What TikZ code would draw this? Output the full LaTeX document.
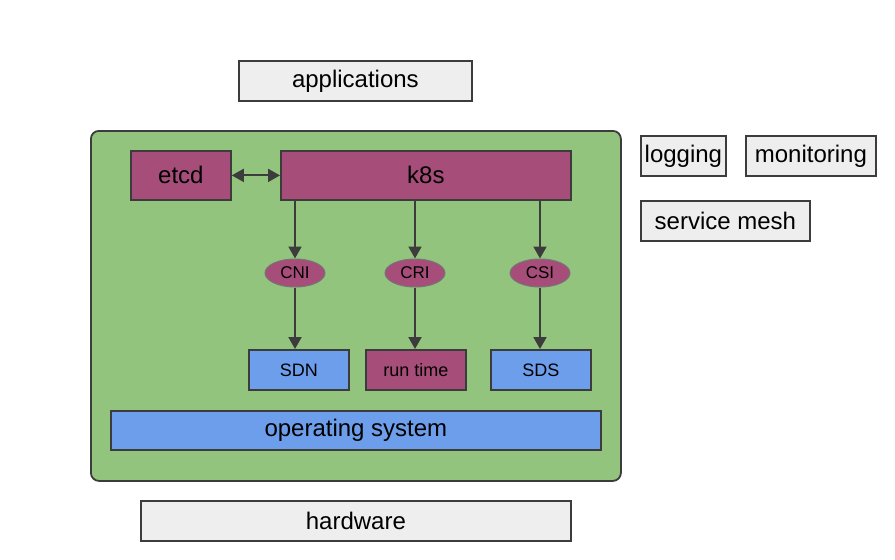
\documentclass[tikz,border=0pt]{standalone}
\usepackage{fontspec}
\setmainfont{Liberation Sans}
\usetikzlibrary{shapes.geometric,arrows.meta}
\definecolor{plum}{HTML}{A64D79}
\definecolor{leaf}{HTML}{93C47D}
\definecolor{sky}{HTML}{6D9EEB}
\definecolor{pale}{HTML}{EEEEEE}
\definecolor{edge}{HTML}{3C3C3C}
\tikzset{
  box/.style={draw=edge, line width=1.8pt, rectangle, inner sep=0pt, anchor=north west},
  graybox/.style={box, fill=pale},
  plumbox/.style={box, fill=plum},
  bluebox/.style={box, fill=sky},
  oval/.style={draw=edge!70, line width=1pt, ellipse, fill=plum, minimum width=60pt, minimum height=28pt, inner sep=0pt, font=\fontsize{17}{20}\selectfont},
  tip/.tip={Triangle[length=12pt,width=13pt]},
  conn/.style={draw=edge, line width=2pt, -tip},
  big/.style={font=\fontsize{24}{28}\selectfont},
  small/.style={font=\fontsize{18}{21}\selectfont},
}
\begin{document}
\begin{tikzpicture}[x=1pt,y=-1pt]
\useasboundingbox (0,0) rectangle (895,560);
% applications
\node[graybox, minimum width=233pt, minimum height=40pt] (app) at (238,60) {};
\node[big] at (app.center) {applications};
% green platform
\node[box, fill=leaf, rounded corners=8pt, minimum width=530pt, minimum height=350pt] (plat) at (90,130) {};
% etcd and k8s
\node[plumbox, minimum width=100pt, minimum height=49pt] (etcd) at (130,150) {};
\node[big] at (etcd.center) {etcd};
\node[plumbox, minimum width=290pt, minimum height=49pt] (k8s) at (280,150) {};
\node[big] at (k8s.center) {k8s};
\draw[draw=edge, line width=2pt, tip-tip] (etcd.east) -- (k8s.west);
% interfaces
\node[oval] (cni) at (295,273) {CNI};
\node[oval] (cri) at (415,273) {CRI};
\node[oval] (csi) at (540,273) {CSI};
% bottom components
\node[bluebox, minimum width=100pt, minimum height=40pt] (sdn) at (248,349) {};
\node[small] at (sdn.center) {SDN};
\node[plumbox, minimum width=100pt, minimum height=40pt] (rt) at (365,349) {};
\node[small] at (rt.center) {run time};
\node[bluebox, minimum width=100pt, minimum height=40pt] (sds) at (490,349) {};
\node[small] at (sds.center) {SDS};
% connectors
\coordinate (k1) at (295,199);
\coordinate (k2) at (415,199);
\coordinate (k3) at (540,199);
\draw[conn] (k1) -- (cni.north);
\draw[conn] (k2) -- (cri.north);
\draw[conn] (k3) -- (csi.north);
\draw[conn] (cni.south) -- (cni.south |- sdn.north);
\draw[conn] (cri.south) -- (cri.south |- rt.north);
\draw[conn] (csi.south) -- (csi.south |- sds.north);
% operating system
\node[bluebox, minimum width=490pt, minimum height=39pt] (os) at (110,410) {};
\node[big] at (os.center) {operating system};
% hardware
\node[graybox, minimum width=430pt, minimum height=40pt] (hw) at (140,500) {};
\node[big] at (hw.center) {hardware};
% side boxes
\node[graybox, minimum width=85pt, minimum height=40pt] (log) at (640,135) {};
\node[big] at (log.center) {logging};
\node[graybox, minimum width=130pt, minimum height=40pt] (mon) at (745,135) {};
\node[big] at (mon.center) {monitoring};
\node[graybox, minimum width=169pt, minimum height=40pt] (mesh) at (640,200) {};
\node[big] at (mesh.center) {service mesh};
\end{tikzpicture}
\end{document}
